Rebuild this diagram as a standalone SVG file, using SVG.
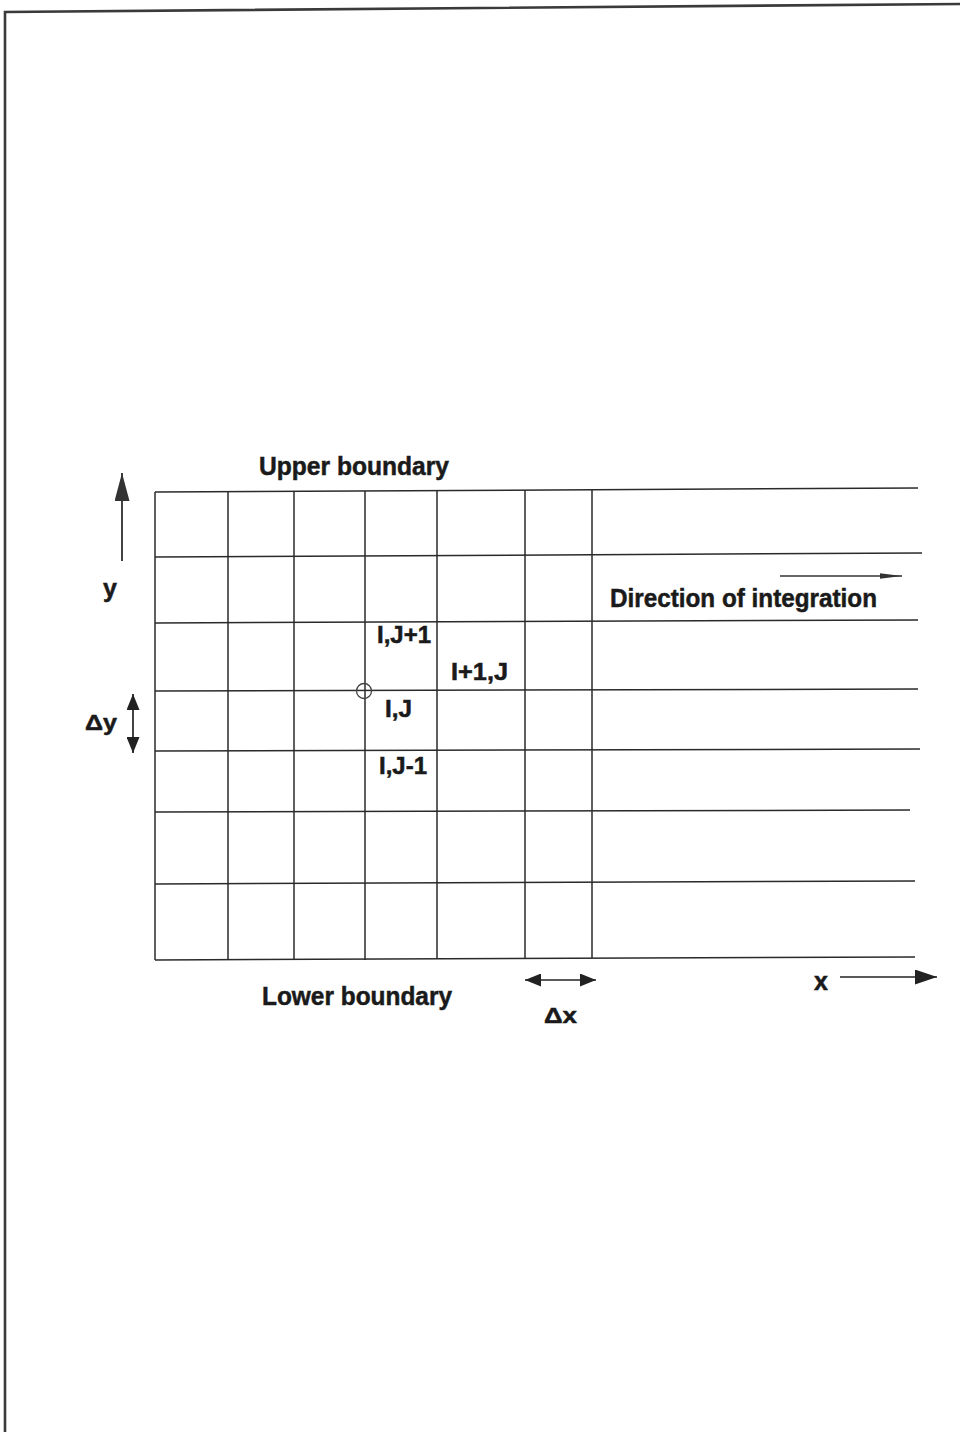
<svg xmlns="http://www.w3.org/2000/svg" width="960" height="1432" viewBox="0 0 960 1432">
<style>
.frame{fill:none;stroke:#3a3a3a;stroke-width:2.6}
.grid line{stroke:#2a2a2a;stroke-width:1.5}
.lbl{font-family:"Liberation Sans",Arial,sans-serif;font-weight:bold;fill:#1a1a1a;stroke:#1a1a1a;stroke-width:0.5}
.ax{stroke:#222;stroke-width:1.7;fill:none}
</style>
<defs>
<marker id="ahDy" viewBox="0 0 10 10" refX="10" refY="5" markerWidth="16" markerHeight="13" markerUnits="userSpaceOnUse" orient="auto-start-reverse" preserveAspectRatio="none">
<path d="M0,0 L10,5 L0,10 z" fill="#222"/>
</marker>
<marker id="ahL" viewBox="0 0 10 10" refX="10" refY="5" markerWidth="16" markerHeight="13" markerUnits="userSpaceOnUse" orient="auto-start-reverse" preserveAspectRatio="none">
<path d="M0,0 L10,5 L0,10 z" fill="#222"/>
</marker>
<marker id="ahX" viewBox="0 0 10 10" refX="10" refY="5" markerWidth="22" markerHeight="15" markerUnits="userSpaceOnUse" orient="auto" preserveAspectRatio="none">
<path d="M0,0 L10,5 L0,10 z" fill="#222"/>
</marker>
<marker id="ahY" viewBox="0 0 10 10" refX="10" refY="5" markerWidth="28" markerHeight="15" markerUnits="userSpaceOnUse" orient="auto" preserveAspectRatio="none">
<path d="M0,0 L10,5 L0,10 z" fill="#333"/>
</marker>
<marker id="ahS" viewBox="0 0 10 10" refX="10" refY="5" markerWidth="22" markerHeight="7" markerUnits="userSpaceOnUse" orient="auto" preserveAspectRatio="none">
<path d="M0,1 L10,5 L0,9 z" fill="#333"/>
</marker>
</defs>
<rect width="960" height="1432" fill="#fff"/>
<path class="frame" d="M5,1432 L5,12 L960,4"/>
<g id="grid" class="grid">
<line x1="155" y1="492" x2="918" y2="488"/>
<line x1="155" y1="557" x2="922" y2="553"/>
<line x1="155" y1="623" x2="918" y2="620"/>
<line x1="155" y1="691" x2="918" y2="689"/>
<line x1="155" y1="751" x2="920" y2="749"/>
<line x1="155" y1="812" x2="910" y2="810"/>
<line x1="155" y1="884" x2="915" y2="881"/>
<line x1="155" y1="960" x2="915" y2="957"/>
<line x1="155" y1="492" x2="155" y2="960"/>
<line x1="228" y1="492" x2="228" y2="960"/>
<line x1="294" y1="492" x2="294" y2="960"/>
<line x1="365" y1="491" x2="365" y2="960"/>
<line x1="437" y1="491" x2="437" y2="959"/>
<line x1="525" y1="490" x2="525" y2="959"/>
<line x1="592" y1="490" x2="592" y2="958"/>
</g>
<g id="node-ij-point">
<circle cx="364" cy="691" r="7.5" fill="none" stroke="#444" stroke-width="1.3"/>
</g>
<g id="connectors">
<line class="ax" x1="122" y1="561" x2="122" y2="473" marker-end="url(#ahY)"/>
<line class="ax" x1="133" y1="694" x2="133" y2="753" marker-start="url(#ahDy)" marker-end="url(#ahDy)"/>
<line class="ax" x1="525" y1="980" x2="596" y2="980" marker-start="url(#ahL)" marker-end="url(#ahL)"/>
<line class="ax" x1="840" y1="977" x2="937" y2="977" marker-end="url(#ahX)"/>
<line x1="780" y1="576" x2="902" y2="576" stroke="#333" stroke-width="1.3" marker-end="url(#ahS)"/>
</g>
<g id="label-upper"><text class="lbl" x="259" y="475" font-size="25" textLength="190" lengthAdjust="spacingAndGlyphs">Upper boundary</text></g>
<g id="label-lower"><text class="lbl" x="262" y="1005" font-size="25" textLength="190" lengthAdjust="spacingAndGlyphs">Lower boundary</text></g>
<g id="label-direction"><text class="lbl" x="610" y="607" font-size="25" textLength="267" lengthAdjust="spacingAndGlyphs">Direction of integration</text></g>
<g id="label-y"><text class="lbl" x="103" y="597" font-size="25">y</text></g>
<g id="label-x"><text class="lbl" x="814" y="990" font-size="25">x</text></g>
<g id="label-dy"><text class="lbl" x="85" y="730" font-size="22" textLength="32" lengthAdjust="spacingAndGlyphs">Δy</text></g>
<g id="label-dx"><text class="lbl" x="544" y="1023" font-size="22" textLength="33" lengthAdjust="spacingAndGlyphs">Δx</text></g>
<g id="label-ij1"><text class="lbl" x="377" y="643" font-size="23" textLength="54" lengthAdjust="spacingAndGlyphs">I,J+1</text></g>
<g id="label-i1j"><text class="lbl" x="451" y="680" font-size="23" textLength="57" lengthAdjust="spacingAndGlyphs">I+1,J</text></g>
<g id="label-ij"><text class="lbl" x="385" y="717" font-size="23" textLength="27" lengthAdjust="spacingAndGlyphs">I,J</text></g>
<g id="label-ijm1"><text class="lbl" x="379" y="774" font-size="23" textLength="48" lengthAdjust="spacingAndGlyphs">I,J-1</text></g>
</svg>
